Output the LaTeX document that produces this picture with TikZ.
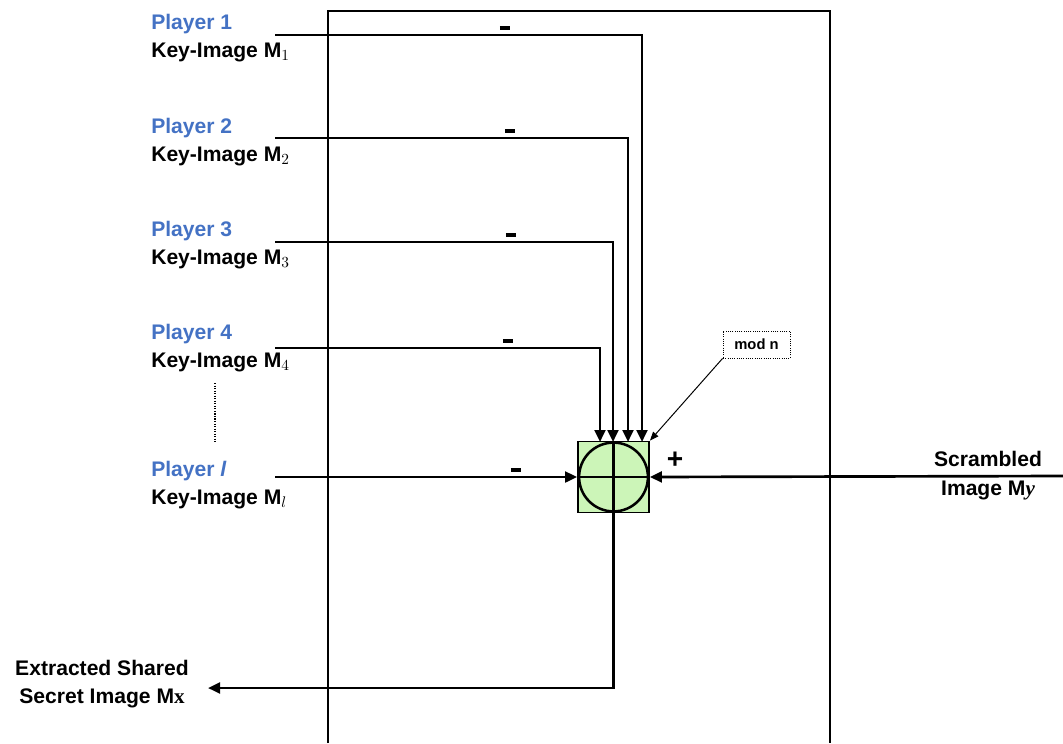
\documentclass[tikz,border=0pt]{standalone}
\usepackage{fontspec}
\setmainfont{Liberation Sans}
\newfontfamily\serifx{Liberation Serif}
\usetikzlibrary{arrows.meta,positioning}
\definecolor{playerBlue}{HTML}{4472C4}
\definecolor{opGreen}{HTML}{CCF5B8}
\tikzset{
  wire/.style={line width=1.9pt},
  arr/.style={wire,-{Triangle[length=0.3cm,width=0.27cm]}},
  thinarr/.style={line width=0.7pt,-{Triangle[length=0.22cm,width=0.17cm]}},
  keylbl/.style={align=left,anchor=west,inner sep=0pt},
  sign/.style={inner sep=0pt,font=\bfseries\fontsize{16}{16}\selectfont},
}

\begin{document}
\begin{tikzpicture}[x=0.025cm, y=-0.025cm, font=\bfseries\fontsize{15}{19.5}\selectfont]
\useasboundingbox (0,0) rectangle (1063,743);
% outer frame, open at the bottom
\draw[line width=1.6pt] (328,743) -- (328,11) -- (830,11) -- (830,743);
% ---------------- operator: box with circled cross ----------------
\node[draw, fill=opGreen, line width=1.3pt, minimum size=1.775cm, inner sep=0pt] (op) at (613.5,477) {};
\node[draw, circle, line width=1.8pt, minimum size=1.72cm, inner sep=0pt] (ring) at (op) {};
\draw[wire] (ring.north) -- (ring.south) (ring.west) -- (ring.east);
% ---------------- players 1..4: key-images enter from the top ----------------
\foreach \i/\ly/\wy/\ex/\mx in {1/38/35/642/505, 2/142/138/628/510, 3/245/242/613/511, 4/348/348/600/508}{
  \node[keylbl] (key\i) at (151,\ly) {{\color{playerBlue}Player \i}\\Key-Image M$_{\i}$};
  \coordinate (src\i) at (275,\wy);
  \coordinate (in\i) at (\ex,442);
  \draw[arr] (src\i) -| (in\i);
  \node[sign] (minus\i) at (\mx,\wy-7) {\rule{0.26cm}{0.09cm}};
}
% dots between player 4 and player l
\coordinate (dtop) at (215,383);
\coordinate (dbot) at (215,443);
\draw[densely dotted, line width=0.8pt] (dtop) -- (dbot);
% ---------------- player l: enters from the left ----------------
\node[keylbl] (keyl) at (151,485) {{\color{playerBlue}Player \textit{l}}\\Key-Image M$_{l}$};
\coordinate (srcl) at (275,477);
\draw[arr] (srcl) -- (op.west);
\node[sign] (minusl) at (516,470) {\rule{0.26cm}{0.09cm}};
% ---------------- scrambled image: enters from the right ----------------
\node[align=center, inner sep=0pt] (scr) at (988,476) {Scrambled\\[1pt]Image M{\serifx\itshape y}};
\coordinate (srcy) at (1063,476);
\draw[arr] (srcy) -- (op.east);
\node[sign, font=\bfseries\fontsize{20}{20}\selectfont] (plus) at (675,460) {+};
% modulus note
\node[draw, densely dotted, line width=0.6pt, minimum width=1.675cm, minimum height=0.675cm, inner sep=0pt,
      font=\bfseries\fontsize{10.5}{10.5}\selectfont] (mod) at (756.5,344.5) {mod n};
\draw[thinarr] (mod.south west) -- (op.north east);
% ---------------- output ----------------
\node[align=center, inner sep=0pt] (ext) at (102,684) {Extracted Shared\\[1pt]Secret Image M{\serifx x}};
\coordinate (outend) at (208,688);
\draw[arr] (ring.south) |- (outend);
\end{tikzpicture}
\end{document}
